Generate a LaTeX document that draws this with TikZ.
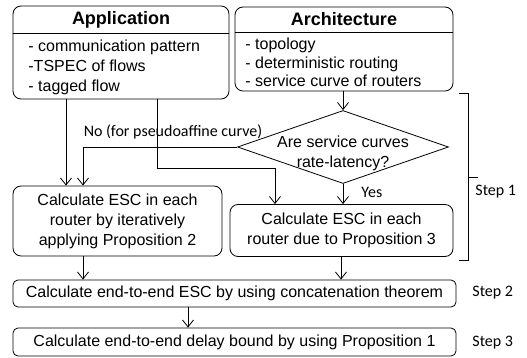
\documentclass[tikz,border=0pt]{standalone}
\usepackage{fontspec}
\setmainfont{Liberation Sans}
\newfontfamily\calib{Carlito}
\usetikzlibrary{arrows.meta,shapes.geometric}

\begin{document}
\begin{tikzpicture}[x=1pt,y=-1pt,line width=0.8pt,
    >={Straight Barb[length=7pt,width=11pt]},
    main box/.style={draw,rounded corners=8pt,inner sep=0pt,align=center,
                     font=\fontsize{16}{20}\selectfont},
    step box/.style={draw,rounded corners=5pt,inner sep=0pt,
                     minimum width=443pt,font=\fontsize{16}{20}\selectfont},
    decision/.style={draw,diamond,inner sep=0pt,minimum width=211pt,
                     minimum height=73pt,aspect=2.9},
    title/.style={font=\fontsize{18}{20}\bfseries\selectfont},
    items/.style={anchor=west,align=left,inner sep=0pt,
                  font=\fontsize{16}{20}\selectfont},
    side/.style={font=\calib\fontsize{16}{20}\selectfont,inner sep=0pt}]

  \useasboundingbox (0,0) rectangle (527,358);

  % input boxes
  \node[main box,minimum width=216pt,minimum height=93pt] (app) at (121,52.5) {};
  \node[title] (apptitle) at (121,20) {Application};
  \draw (app.west |- 0,33) -- (app.east |- 0,33);
  \node[items] (appitems) at (28,67.5) {- communication pattern\\-TSPEC of flows\\- tagged flow};

  \node[main box,minimum width=218pt,minimum height=84pt] (arch) at (344,49) {};
  \node[title] (archtitle) at (344,19) {Architecture};
  \draw (arch.west |- 0,32) -- (arch.east |- 0,32);
  \node[items,font=\fontsize{16}{18.5}\selectfont] (architems) at (245,62.5) {- topology\\- deterministic routing\\- service curve of routers};

  % decision
  \node[decision] (q) at (343,147) {};
  \node[inner sep=0pt,align=center,font=\fontsize{16}{20}\selectfont] (qtext) at (343,153) {Are service curves\\rate-latency?};

  % step 1 boxes
  \node[main box,minimum width=209pt,minimum height=70pt] (lbox) at (117.5,221)
    {Calculate ESC in each\\router by iteratively\\applying Proposition 2};
  \node[main box,minimum width=223pt,minimum height=52pt] (rbox) at (341.5,230.5)
    {Calculate ESC in each\\router due to Proposition 3};

  % step 2 and 3
  \node[step box,minimum height=27pt] (s2) at (234.5,293.5)
    {Calculate end-to-end ESC by using concatenation theorem};
  \node[step box,minimum height=28pt] (s3) at (234.5,342)
    {Calculate end-to-end delay bound by using Proposition 1};

  % connectors
  \draw[->] (app.south -| 66,0) -- (lbox.north -| 66,0);
  \draw[->] (app.south -| 157,0) |- (275,168) -- (rbox.north -| 275,0);
  \draw[->] (arch.south -| q.north) -- (q.north);
  \draw[->] (q.west) -| (lbox.north -| 83,0);
  \node[side] (no) at (173,132) {No (for pseudoaffine curve)};
  \draw[->] (q.south) -- (q.south |- rbox.north);
  \node[side,anchor=west] (yes) at (361,192) {Yes};
  \draw[->] (lbox.south -| 83,0) -- (s2.north -| 83,0);
  \draw[->] (rbox.south -| 341,0) -- (s2.north -| 341,0);
  \draw[->] (s2.south -| 188,0) -- (s3.north -| 188,0);

  % steps
  \draw (459,93) -- (468,93) -- (468,260) -- (459,260);
  \draw (468,177) -- (478,177);
  \node[side,anchor=west] (st1) at (475,192) {Step 1};
  \node[side,anchor=west] (st2) at (472,293) {Step 2};
  \node[side,anchor=west] (st3) at (472,343) {Step 3};
\end{tikzpicture}
\end{document}
